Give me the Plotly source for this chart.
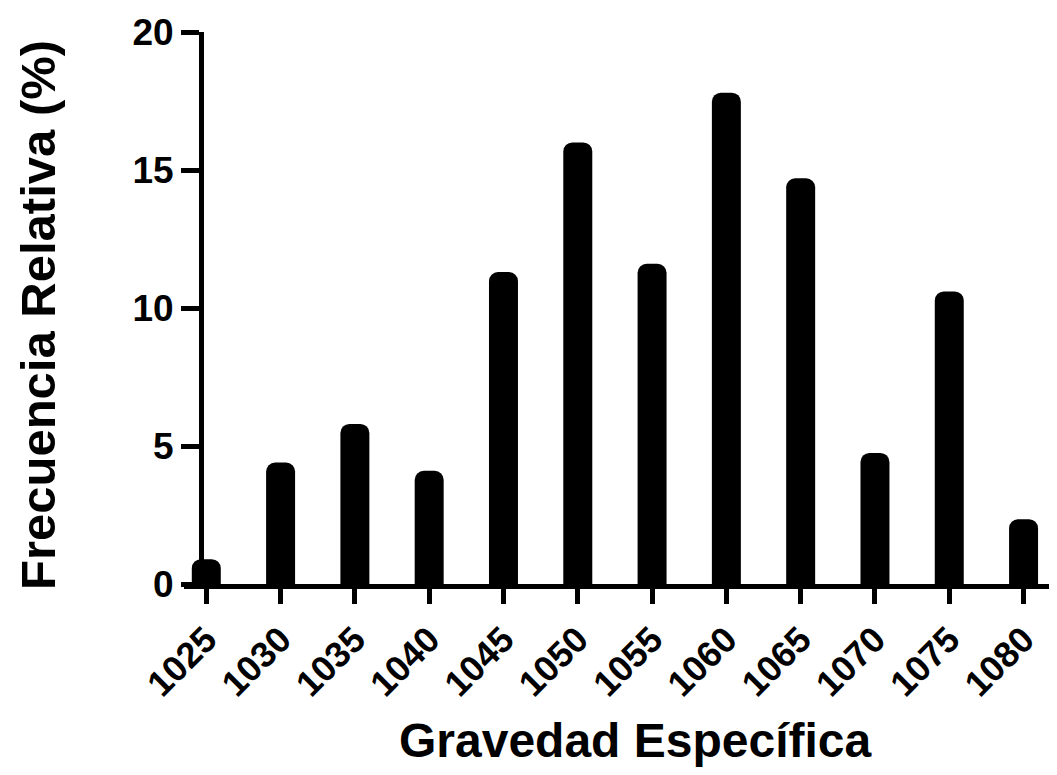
import plotly.graph_objects as go

categories = ["1025", "1030", "1035", "1040", "1045", "1050",
              "1055", "1060", "1065", "1070", "1075", "1080"]
frecuencia = [0.9, 4.4, 5.8, 4.1, 11.3, 16.0, 11.6, 17.8, 14.7, 4.75, 10.6, 2.35]
y_ticks = [0, 5, 10, 15, 20]

x_title = "Gravedad Específica"
y_title = "Frecuencia Relativa (%)"

FONT = "Liberation Sans, Arial, sans-serif"

# plot area geometry (figure px)
L, W, H = 176, 1049, 767
y_axis_px = 193

fig = go.Figure(
    go.Bar(
        x=categories,
        y=frecuencia,
        marker=dict(color="black", line=dict(width=0), cornerradius=9),
        width=0.39,
        hoverinfo="x+y",
    )
)

fig.update_layout(
    width=W,
    height=H,
    margin=dict(l=L, r=0, t=24, b=191, autoexpand=False),
    paper_bgcolor="white",
    plot_bgcolor="white",
    showlegend=False,
    font=dict(family=FONT, color="black"),
    xaxis=dict(
        type="category",
        range=[-0.3, 11.45],
        showline=True,
        linecolor="black",
        linewidth=5,
        ticks="outside",
        ticklen=15,
        tickwidth=5,
        tickcolor="black",
        tickangle=-45,
        tickfont=dict(family=FONT, size=36, color="black", weight="bold"),
        showgrid=False,
        zeroline=False,
        automargin=False,
        layer="below traces",
    ),
    yaxis=dict(
        range=[0, 20],
        tickvals=y_ticks,
        anchor="free",
        position=(y_axis_px - L) / (W - L),
        showline=True,
        linecolor="black",
        linewidth=5,
        ticks="outside",
        ticklen=18,
        tickwidth=5,
        tickcolor="black",
        tickfont=dict(family=FONT, size=37, color="black", weight="bold"),
        showgrid=False,
        zeroline=False,
        automargin=False,
        layer="below traces",
    ),
    annotations=[
        dict(text="<b>" + x_title + "</b>", xref="paper", yref="paper",
             x=0.5, y=0, xanchor="center", yanchor="middle",
             xshift=15, yshift=-156, showarrow=False,
             font=dict(family=FONT, size=48, color="black")),
        dict(text="<b>" + y_title + "</b>", xref="paper", yref="paper",
             x=0, y=0.5, xanchor="center", yanchor="middle", textangle=-90,
             xshift=-146, yshift=-7, showarrow=False,
             font=dict(family=FONT, size=49, color="black")),
    ],
)

fig.write_html("out.html")
